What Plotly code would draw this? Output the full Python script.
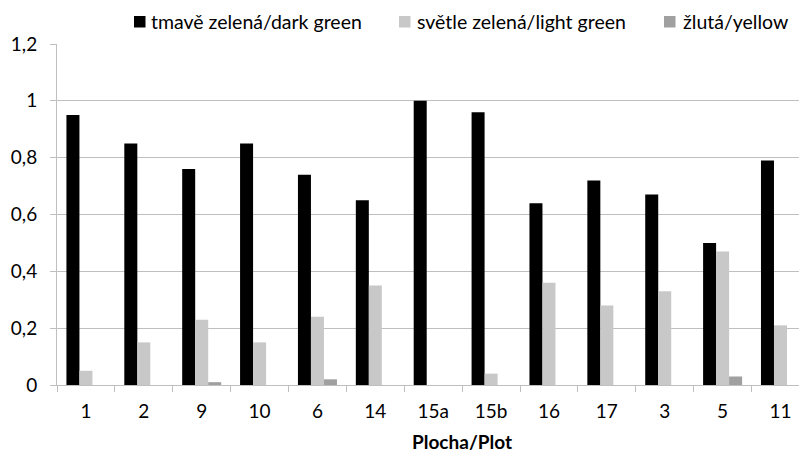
import plotly.graph_objects as go

plots = ["1", "2", "9", "10", "6", "14", "15a", "15b", "16", "17", "3", "5", "11"]
dark_green = [0.95, 0.85, 0.76, 0.85, 0.74, 0.65, 1.00, 0.96, 0.64, 0.72, 0.67, 0.50, 0.79]
light_green = [0.05, 0.15, 0.23, 0.15, 0.24, 0.35, 0.00, 0.04, 0.36, 0.28, 0.33, 0.47, 0.21]
yellow = [0.00, 0.00, 0.01, 0.00, 0.02, 0.00, 0.00, 0.00, 0.00, 0.00, 0.00, 0.03, 0.00]

series_names = ["tmavě zelená/dark green", "světle zelená/light green", "žlutá/yellow"]
series_colors = ["#000000", "#c8c8c8", "#a0a0a0"]

font = "Lato, Open Sans, sans-serif"
axis_grey = "#bfbfbf"
fs = 19

W, H = 799, 452
plot_l, plot_t, plot_b = 57, 44, 67
plot_w = W - plot_l
plot_h = H - plot_t - plot_b


def px_x(x):
    return (x - plot_l) / plot_w


def px_y(y):
    return (H - plot_b - y) / plot_h


fig = go.Figure()
for name, vals, col in zip(series_names, [dark_green, light_green, yellow], series_colors):
    fig.add_trace(go.Bar(x=plots, y=vals, name=name, showlegend=False,
                         marker=dict(color=col, line=dict(width=0))))

# Legend row across the top: square swatch followed by its label
legend_swatch_left = [134, 399, 664]
legend_text_left = [151, 417, 683]
shapes, annotations = [], []
for name, col, sx, tx in zip(series_names, series_colors, legend_swatch_left, legend_text_left):
    shapes.append(dict(type="rect", xref="paper", yref="paper",
                       x0=px_x(sx), x1=px_x(sx + 11.5), y0=px_y(27.5), y1=px_y(16),
                       fillcolor=col, line=dict(width=0)))
    annotations.append(dict(text=name, xref="paper", yref="paper",
                            x=px_x(tx), y=px_y(21), xanchor="left", yanchor="middle",
                            showarrow=False, xshift=-2, font=dict(size=19.5)))

annotations.append(dict(
    text="<b>Plocha/Plot</b>", xref="paper", yref="paper",
    x=px_x(462), y=px_y(441.5), xanchor="center", yanchor="middle",
    showarrow=False, font=dict(size=fs),
))

fig.update_layout(
    width=W, height=H,
    margin=dict(l=plot_l, r=0, t=plot_t, b=plot_b),
    paper_bgcolor="white", plot_bgcolor="white",
    barmode="group", bargap=0.326, bargroupgap=0,
    separators=", ",
    font=dict(family=font, size=fs, color="#000000"),
    showlegend=False,
    xaxis=dict(
        type="category", range=[-0.5, 12.32],
        showline=True, linecolor=axis_grey, linewidth=1,
        ticks="outside", ticklen=6, tickcolor=axis_grey, tickson="boundaries",
        showgrid=False, tickfont=dict(size=fs), ticklabelstandoff=9,
    ),
    yaxis=dict(
        range=[0, 1.2], dtick=0.2,
        showline=True, linecolor=axis_grey, linewidth=1,
        ticks="outside", ticklen=6, tickcolor=axis_grey,
        showgrid=True, gridcolor=axis_grey, gridwidth=1,
        zeroline=False, tickfont=dict(size=fs), ticklabelstandoff=9,
    ),
    shapes=shapes,
    annotations=annotations,
)

fig.write_html("out.html")
